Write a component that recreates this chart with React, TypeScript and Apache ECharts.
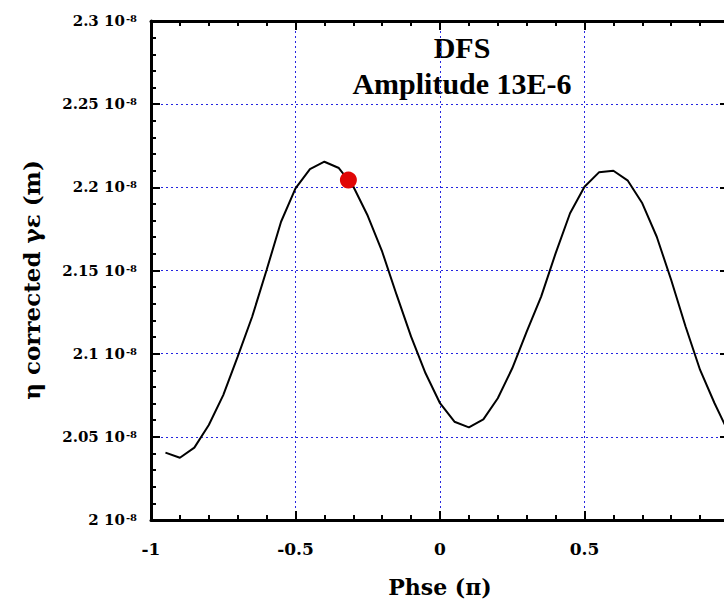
import React, { useEffect, useRef } from "react";
import * as echarts from "echarts";

const phase = [
  -0.95, -0.9, -0.85, -0.8, -0.75, -0.7, -0.65, -0.6, -0.55, -0.5,
  -0.45, -0.4, -0.35, -0.3, -0.25, -0.2, -0.15, -0.1, -0.05, 0,
  0.05, 0.1, 0.15, 0.2, 0.25, 0.3, 0.35, 0.4, 0.45, 0.5,
  0.55, 0.6, 0.65, 0.7, 0.75, 0.8, 0.85, 0.9, 0.95, 1.0,
];
// values in units of 1e-8 m
const gammaEps = [
  2.0405, 2.0374, 2.0435, 2.0571, 2.0751, 2.0982, 2.1222, 2.1503, 2.1793, 2.1994,
  2.211, 2.2154, 2.2116, 2.2005, 2.1829, 2.1613, 2.1353, 2.1102, 2.0882, 2.0702,
  2.0591, 2.0557, 2.0605, 2.0732, 2.0912, 2.1132, 2.1343, 2.1603, 2.1844, 2.2004,
  2.209, 2.21, 2.204, 2.1904, 2.1703, 2.1443, 2.1162, 2.0902, 2.0702, 2.052,
];
const markerPoint = [-0.317, 2.2044];
const xTickLabels = ["-1", "-0.5", "0", "0.5", "1"];
const yExponent = "-8";
const titleLines = ["DFS", "Amplitude 13E-6"];
const xAxisTitle = "Phse (π)";
const yAxisTitle = "η corrected γε (m)";

const SERIF_WIDE = "'DejaVu Serif', serif";
const SERIF = "'Liberation Serif', 'Times New Roman', serif";

export default function App() {
  const ref = useRef<HTMLDivElement>(null);
  useEffect(() => {
    if (!ref.current) return;
    const chart = echarts.init(ref.current, undefined, { renderer: "svg" });
    const gridLine = { show: true, lineStyle: { color: "#2424e0", width: 1, type: [2, 3] as any } };
    const axisLine = { show: true, onZero: false, lineStyle: { color: "#000", width: 3 } };
    const tick = { show: true, inside: true, length: 9, lineStyle: { color: "#000", width: 2 } };
    const minor = { show: true, splitNumber: 5, length: 5, lineStyle: { color: "#000", width: 2 } };
    const fmtY = (v: number) => {
      const s = parseFloat(v.toFixed(2)).toString();
      return `{b|${s} 10}{s|${yExponent}}`;
    };
    const fmtX = (v: number) => {
      const idx = Math.round((v + 1) / 0.5);
      return xTickLabels[idx] ?? "";
    };
    chart.setOption({
      animation: false,
      backgroundColor: "#fff",
      grid: { left: 151, right: 11, top: 21, bottom: 85, containLabel: false },
      xAxis: [
        {
          type: "value",
          min: -1,
          max: 1,
          interval: 0.5,
          position: "bottom",
          axisLine,
          axisTick: tick,
          minorTick: minor,
          splitLine: gridLine,
          axisLabel: {
            formatter: fmtX,
            margin: 20,
            fontFamily: SERIF_WIDE,
            fontWeight: "bold",
            fontSize: 17,
            color: "#000",
            showMinLabel: true,
            showMaxLabel: true,
          },
          name: xAxisTitle,
          nameLocation: "middle",
          nameGap: 56,
          nameTextStyle: { fontFamily: SERIF_WIDE, fontWeight: "bold", fontSize: 22, color: "#000" },
        },
        {
          type: "value",
          min: -1,
          max: 1,
          interval: 0.5,
          position: "top",
          axisLine,
          axisTick: tick,
          minorTick: minor,
          splitLine: { show: false },
          axisLabel: { show: false },
        },
      ],
      yAxis: [
        {
          type: "value",
          min: 2,
          max: 2.3,
          interval: 0.05,
          position: "left",
          axisLine,
          axisTick: tick,
          minorTick: minor,
          splitLine: gridLine,
          axisLabel: {
            formatter: fmtY,
            margin: 14,
            color: "#000",
            showMinLabel: true,
            showMaxLabel: true,
            rich: {
              b: {
                fontFamily: SERIF_WIDE,
                fontWeight: "bold",
                fontSize: 15,
                lineHeight: 15,
                color: "#000",
                verticalAlign: "bottom",
              },
              s: {
                fontFamily: SERIF_WIDE,
                fontWeight: "bold",
                fontSize: 10,
                lineHeight: 10,
                color: "#000",
                verticalAlign: "top",
                padding: [0, 0, 8, 1],
              },
            },
          },
        },
        {
          type: "value",
          min: 2,
          max: 2.3,
          interval: 0.05,
          position: "right",
          axisLine,
          axisTick: tick,
          minorTick: minor,
          splitLine: { show: false },
          axisLabel: { show: false },
        },
      ],
      graphic: [
        {
          type: "text",
          x: 462,
          y: 47,
          style: {
            text: titleLines[0],
            fontFamily: SERIF,
            fontWeight: "bold",
            fontSize: 30,
            fill: "#000",
            align: "center",
            verticalAlign: "middle",
          },
        },
        {
          type: "text",
          x: 462,
          y: 83,
          style: {
            text: titleLines[1],
            fontFamily: SERIF,
            fontWeight: "bold",
            fontSize: 30,
            fill: "#000",
            align: "center",
            verticalAlign: "middle",
          },
        },
        {
          type: "text",
          x: 31,
          y: 280,
          rotation: Math.PI / 2,
          style: {
            text: yAxisTitle,
            fontFamily: SERIF_WIDE,
            fontWeight: "bold",
            fontSize: 23,
            fill: "#000",
            align: "center",
            verticalAlign: "middle",
          },
        },
      ],
      series: [
        {
          type: "line",
          data: phase.map((x, i) => [x, gammaEps[i]]),
          showSymbol: false,
          symbol: "none",
          lineStyle: { color: "#000", width: 2 },
          clip: true,
          z: 3,
        },
        {
          type: "scatter",
          data: [markerPoint],
          symbol: "circle",
          symbolSize: 17,
          itemStyle: { color: "#e00606", opacity: 1 },
          z: 4,
        },
      ],
    });
    return () => chart.dispose();
  }, []);
  return (
    <div style={{ position: "fixed", left: 0, top: 0, width: 724, height: 605, overflow: "hidden", background: "#fff" }}>
      <div ref={ref} style={{ width: 740, height: 605 }} />
    </div>
  );
}
